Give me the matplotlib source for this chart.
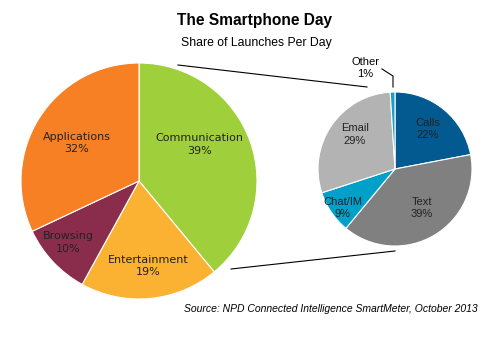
import matplotlib.pyplot as plt

# main pie
main_labels = ["Communication", "Entertainment", "Browsing", "Applications"]
main_values = [39, 19, 10, 32]
main_colors = ["#9fcf3b", "#fbb233", "#8a2d4d", "#f78025"]
# label spots, in units of the pie radius from its centre
main_pos = [(0.51, 0.31), (0.08, -0.72), (-0.60, -0.52), (-0.53, 0.32)]

# breakdown of Communication
sub_labels = ["Calls", "Text", "Chat/IM", "Email", "Other"]
sub_values = [22, 39, 9, 29, 1]
sub_colors = ["#035a90", "#808080", "#00a0c8", "#b3b3b3", "#1aa0cc"]
sub_pos = [(0.42, 0.52), (0.35, -0.51), (-0.68, -0.51), (-0.52, 0.45), None]

fig = plt.figure(figsize=(5, 3.5), dpi=100)
ax = fig.add_axes([0, 0, 1, 1])

H = 350  # work in pixel coords, y measured from the top

def draw_pie(vals, cols, labs, pos, c, r, fam):
    cx, cy = c[0], H - c[1]
    ax.pie(vals, colors=cols, center=(cx, cy), radius=r, startangle=90,
           counterclock=False, frame=True,
           wedgeprops=dict(edgecolor="white", linewidth=0.8))
    for lab, v, p in zip(labs, vals, pos):
        if p is None:
            continue
        ax.text(cx + p[0] * r, cy + p[1] * r, "%s\n%d%%" % (lab, v),
                ha="center", va="center", fontsize=8, family=fam,
                color="#222222", linespacing=1.3)

draw_pie(main_values, main_colors, main_labels, main_pos, (139, 181), 118, "DejaVu Sans")
draw_pie(sub_values, sub_colors, sub_labels, sub_pos, (395, 169), 77, "Liberation Sans")
ax.set_xlim(0, 500)
ax.set_ylim(0, H)
ax.set_aspect("equal")
ax.axis("off")

def line(xs, ys):
    ax.plot(xs, [H - y for y in ys], color="black", lw=0.8)

# connector lines
line([178, 367], [65, 87])
line([231, 395], [269, 251])
# "Other" leader
line([382, 393, 393], [69, 76, 87])
ax.text(365, H - 68, "Other\n1%", ha="center", va="center", fontsize=8,
        family="Liberation Sans", linespacing=1.3)

ax.text(255, H - 20, "The Smartphone Day", ha="center", va="center",
        fontsize=11.2, family="Liberation Sans", fontweight="bold")
ax.text(256, H - 43, "Share of Launches Per Day", ha="center", va="center",
        fontsize=8.8, family="Liberation Sans")
ax.text(478, H - 309, "Source: NPD Connected Intelligence SmartMeter, October 2013",
        ha="right", va="center", fontsize=7.5, family="Liberation Sans",
        style="italic")

fig.savefig("out.png", dpi=100)
